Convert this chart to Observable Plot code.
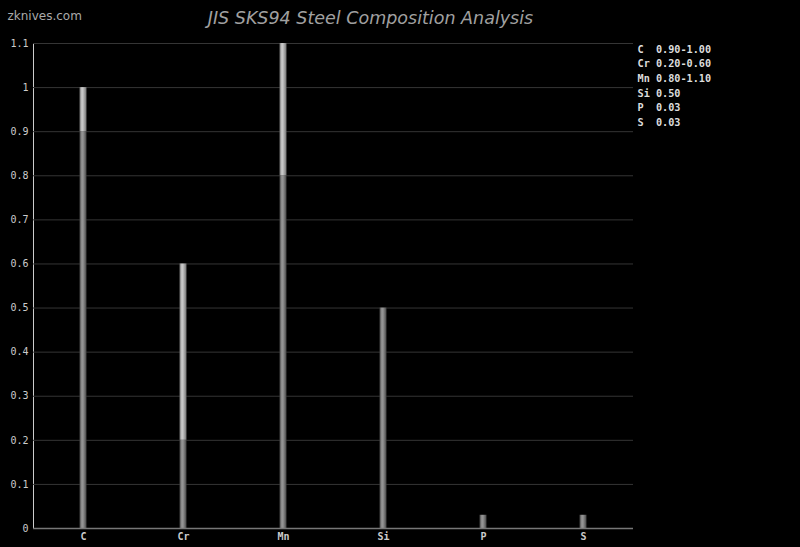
<!DOCTYPE html>
<html>
<head>
<meta charset="utf-8">
<script src="https://cdn.jsdelivr.net/npm/d3@7"></script>
<script src="https://cdn.jsdelivr.net/npm/@observablehq/plot@0.6"></script>
<style>
  html, body { margin: 0; padding: 0; background: #000; }
</style>
</head>
<body>
<div id="chart"></div>
<script>
const elements = ["C", "Cr", "Mn", "Si", "P", "S"];
const minVals = [0.90, 0.20, 0.80, null, null, null];
const maxVals = [1.00, 0.60, 1.10, 0.50, 0.03, 0.03];
const rangeLabels = ["0.90-1.00", "0.20-0.60", "0.80-1.10", "0.50", "0.03", "0.03"];
const yTicks = [0, 0.1, 0.2, 0.3, 0.4, 0.5, 0.6, 0.7, 0.8, 0.9, 1, 1.1];
const titleText = "JIS SKS94 Steel Composition Analysis";
const siteText = "zknives.com";

const lower = elements.map((el, i) => ({el, y1: 0, y2: minVals[i] ?? maxVals[i]}));
const upper = elements.map((el, i) => ({el, y1: minVals[i], y2: maxVals[i]})).filter(d => d.y1 != null);
const legendText = elements.map((el, i) => (el + "\u00a0\u00a0").slice(0, 3) + rangeLabels[i]).join("\n");

const chart = Plot.plot({
  width: 800,
  height: 547,
  marginLeft: 33,
  marginRight: 167,
  marginTop: 43,
  marginBottom: 19,
  style: {background: "#000", color: "#ccc", fontFamily: "DejaVu Sans Mono", fontSize: "10px"},
  x: {type: "band", domain: elements, padding: 0, tickSize: 0, tickPadding: 4, label: null},
  y: {domain: [0, 1.1], ticks: yTicks, tickSize: 0, tickPadding: 5, tickFormat: d => String(d), label: null, line: true},
  marks: [
    Plot.gridY(yTicks, {stroke: "#353535", strokeOpacity: 1}),
    Plot.barY(lower, {x: "el", y1: "y1", y2: "y2", fill: "url(#gLow)", insetLeft: 46.5, insetRight: 46.5}),
    Plot.barY(upper, {x: "el", y1: "y1", y2: "y2", fill: "url(#gHigh)", insetLeft: 46.5, insetRight: 46.5}),
    Plot.ruleY([0], {stroke: "#777", strokeWidth: 1.5}),
    Plot.text([legendText], {frameAnchor: "top-right", textAnchor: "start", lineAnchor: "top", dx: 4, dy: -1, lineHeight: 1.43, fill: "#ddd", fontWeight: "bold", fontFamily: "DejaVu Sans Mono", fontSize: 10.2}),
    Plot.text([titleText], {frameAnchor: "top-left", textAnchor: "middle", lineAnchor: "bottom", dx: 337, dy: -20, fill: "#a0a0a0", fontStyle: "italic", fontFamily: "DejaVu Sans", fontSize: 17.5}),
    Plot.text([siteText], {frameAnchor: "top-left", textAnchor: "start", lineAnchor: "bottom", dx: -26, dy: -24, fill: "#aaa", fontFamily: "DejaVu Sans", fontSize: 12})
  ]
});

const svg = d3.select(chart);
const defs = svg.insert("defs", ":first-child");
function grad(id, stops) {
  const g = defs.append("linearGradient").attr("id", id).attr("x1", "0%").attr("x2", "100%").attr("y1", "0%").attr("y2", "0%");
  stops.forEach(([o, c]) => g.append("stop").attr("offset", o).attr("stop-color", c));
}
grad("gLow", [["0%", "#444"], ["35%", "#9a9a9a"], ["60%", "#868686"], ["100%", "#444"]]);
grad("gHigh", [["0%", "#707070"], ["35%", "#d0d0d0"], ["60%", "#b4b4b4"], ["100%", "#707070"]]);
svg.selectAll("[aria-label='x-axis tick label'] text, [aria-label='x-axis tick label']").attr("font-weight", "bold");

document.getElementById("chart").appendChild(chart);
</script>
</body>
</html>
